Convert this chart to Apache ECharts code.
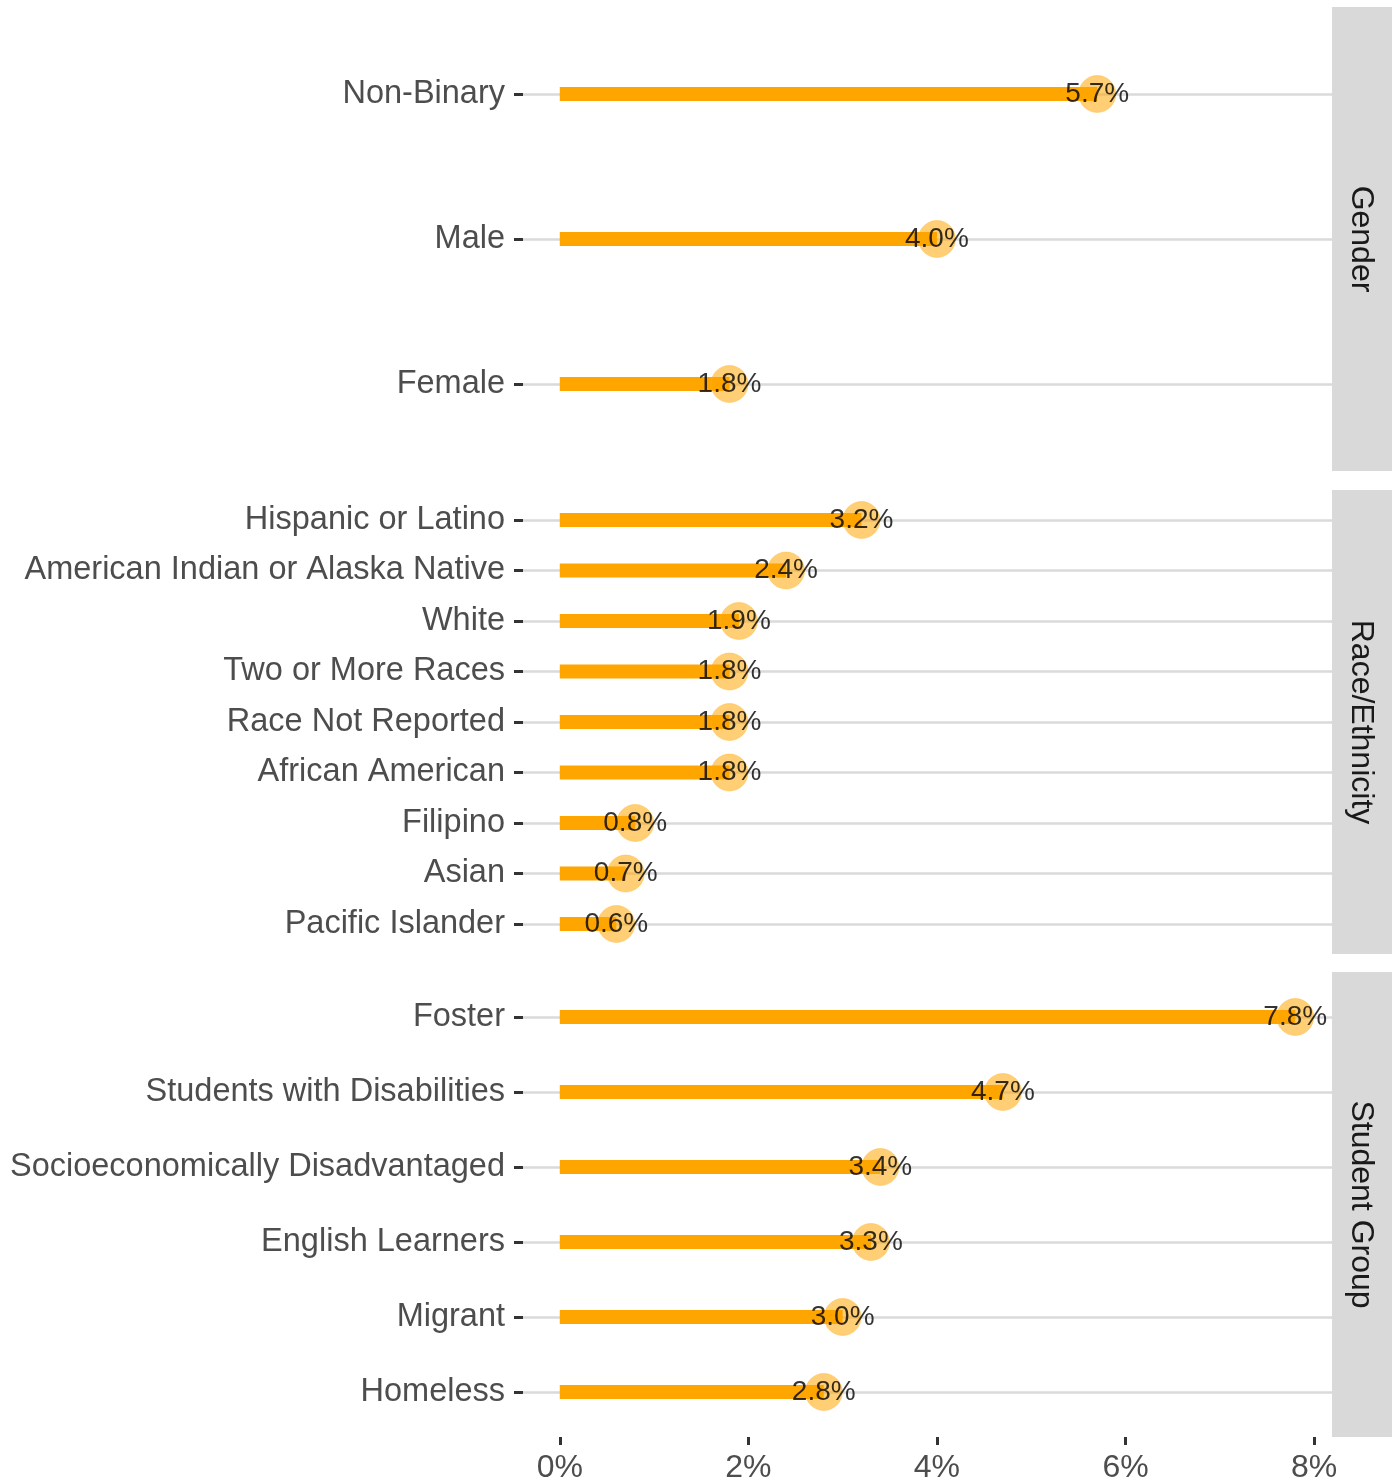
<!DOCTYPE html>
<html>
<head>
<meta charset="utf-8">
<script src="https://cdn.jsdelivr.net/npm/echarts@6/dist/echarts.min.js"></script>
<style>
html,body{margin:0;padding:0;background:#fff;}
#chart{width:1400px;height:1484px;}
</style>
</head>
<body>
<div id="chart"></div>
<script>
// ---- data ----
const genderCats = ['Non-Binary', 'Male', 'Female'];
const genderVals = [5.7, 4.0, 1.8];
const raceCats = ['Hispanic or Latino', 'American Indian or Alaska Native', 'White', 'Two or More Races', 'Race Not Reported', 'African American', 'Filipino', 'Asian', 'Pacific Islander'];
const raceVals = [3.2, 2.4, 1.9, 1.8, 1.8, 1.8, 0.8, 0.7, 0.6];
const groupCats = ['Foster', 'Students with Disabilities', 'Socioeconomically Disadvantaged', 'English Learners', 'Migrant', 'Homeless'];
const groupVals = [7.8, 4.7, 3.4, 3.3, 3.0, 2.8];
const facetNames = ['Gender', 'Race/Ethnicity', 'Student Group'];
const xTicks = [0, 2, 4, 6, 8];

const FONT = "'Liberation Sans', Arial, Helvetica, sans-serif";
const panels = [
  {cats: genderCats, vals: genderVals, top: 94, bottom: 1484 - 384, py0: 7, py1: 471},
  {cats: raceCats, vals: raceVals, top: 520, bottom: 1484 - 924, py0: 490, py1: 954},
  {cats: groupCats, vals: groupVals, top: 1017, bottom: 1484 - 1392, py0: 972, py1: 1437}
];
const XMIN = -0.39, XMAX = 8.19;

const grids = [], xAxes = [], yAxes = [], series = [], graphics = [];
panels.forEach((p, i) => {
  grids.push({left: 523, right: 68, top: p.top, bottom: p.bottom, containLabel: false});
  const last = i === panels.length - 1;
  xAxes.push({
    type: 'value', gridIndex: i, min: XMIN, max: XMAX, show: last,
    offset: last ? 45 : 0,
    splitLine: {show: false},
    axisLine: {show: false, onZero: false},
    axisTick: {show: true, length: 8, lineStyle: {color: '#333', width: 3}, customValues: xTicks},
    axisLabel: {show: true, customValues: xTicks, formatter: v => Math.round(v) + '%',
      fontSize: 32, color: '#4D4D4D', fontFamily: FONT, margin: 15}
  });
  yAxes.push({
    type: 'category', gridIndex: i, data: p.cats, inverse: true, boundaryGap: false,
    position: 'left',
    axisLine: {show: false, onZero: false},
    axisTick: {show: true, length: 9, lineStyle: {color: '#333', width: 3}},
    axisLabel: {fontSize: 32.5, color: '#4D4D4D', fontFamily: FONT, margin: 18, padding: [7, 0, 0, 0]},
    splitLine: {show: true, lineStyle: {color: '#DADADA', width: 2.5}}
  });
  series.push({
    type: 'bar', xAxisIndex: i, yAxisIndex: i, data: p.vals, barWidth: 14,
    itemStyle: {color: '#FFA500'}, z: 2, silent: true
  });
  series.push({
    type: 'scatter', xAxisIndex: i, yAxisIndex: i,
    data: p.vals.map((v, k) => [v, p.cats[k]]),
    symbolSize: 37,
    itemStyle: {color: 'rgba(255,165,0,0.68)', borderColor: 'rgba(255,180,40,0.5)', borderWidth: 1},
    label: {show: true, position: 'inside', formatter: d => d.value[0].toFixed(1) + '%',
      fontSize: 28, color: '#000', fontFamily: FONT, padding: [3, 0, 0, 0]},
    z: 3, silent: true
  });
  graphics.push({
    type: 'rect', shape: {x: 1332, y: p.py0, width: 60, height: p.py1 - p.py0},
    style: {fill: '#D9D9D9'}, z: 1
  });
  graphics.push({
    type: 'text', x: 1361, y: (p.py0 + p.py1) / 2, rotation: -Math.PI / 2,
    style: {text: facetNames[i], fontSize: 32, fill: '#1A1A1A', fontFamily: FONT,
      textAlign: 'center', textVerticalAlign: 'middle'}, z: 2
  });
});

const chart = echarts.init(document.getElementById('chart'), null, {renderer: 'canvas'});
chart.setOption({
  backgroundColor: '#fff',
  animation: false,
  grid: grids, xAxis: xAxes, yAxis: yAxes, series: series, graphic: graphics
});
</script>
</body>
</html>
